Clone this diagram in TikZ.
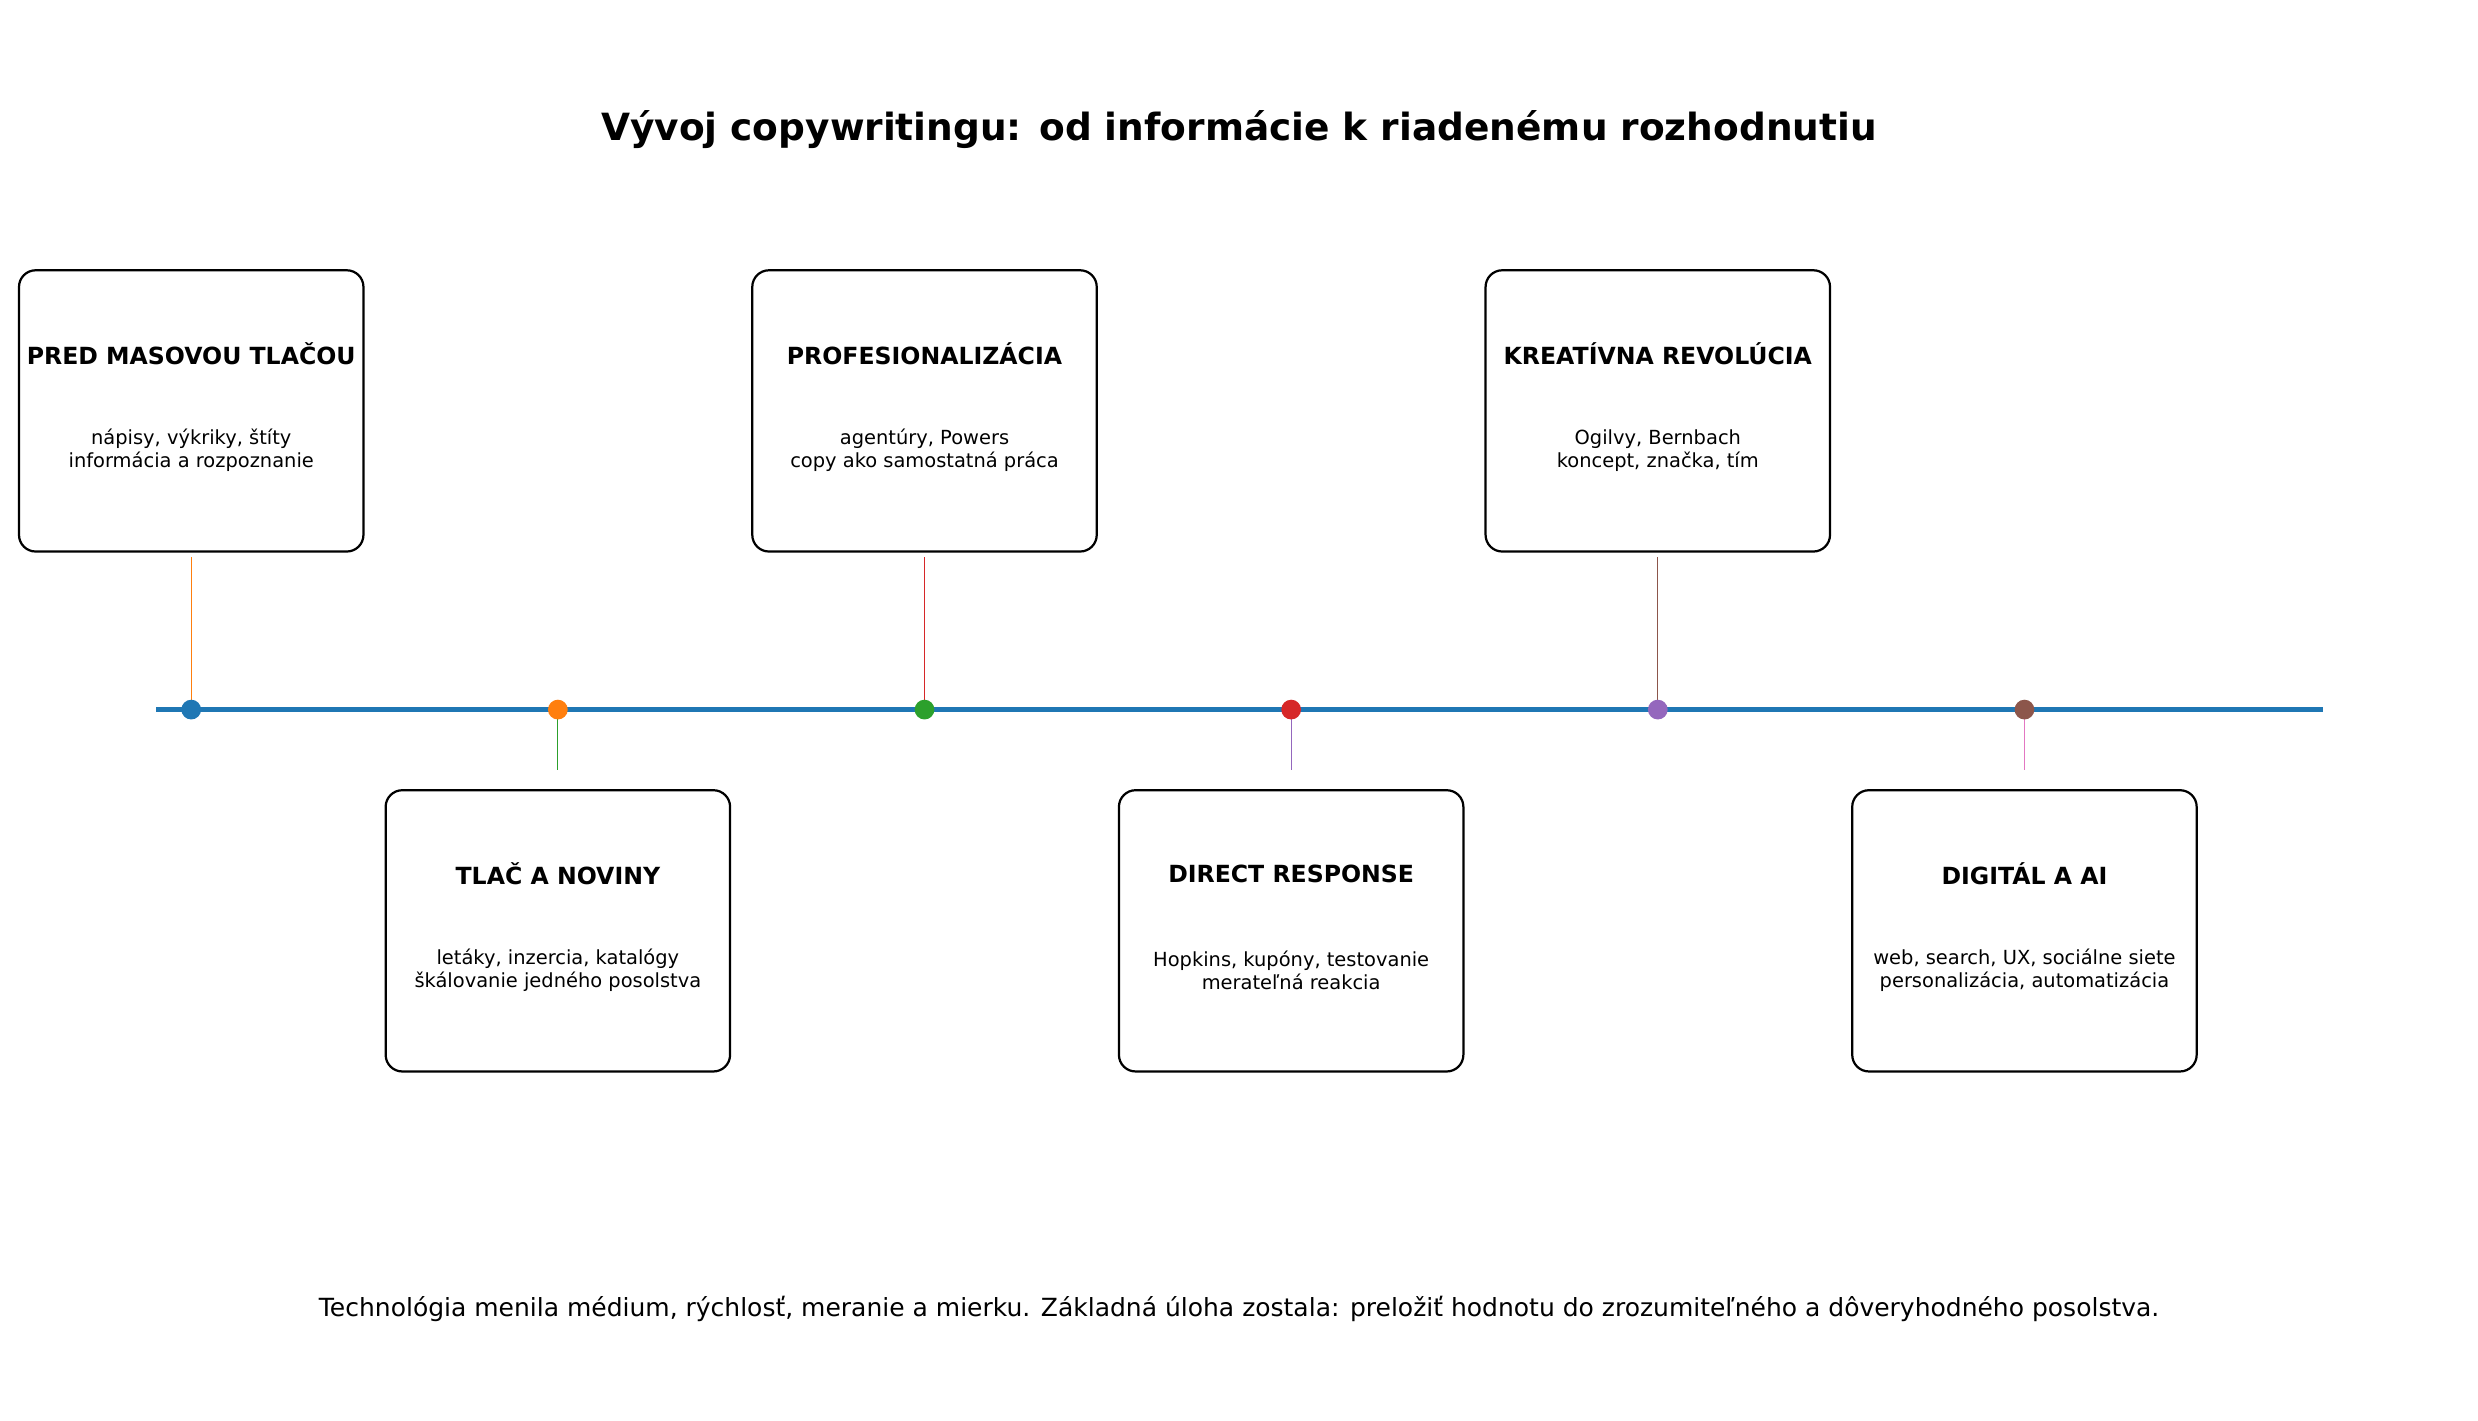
\documentclass[tikz,border=0pt]{standalone}
\usepackage{fontspec}
\setmainfont{DejaVu Sans}
\usetikzlibrary{calc}
\definecolor{tabblue}{HTML}{1F77B4}
\definecolor{taborange}{HTML}{FF7F0E}
\definecolor{tabgreen}{HTML}{2CA02C}
\definecolor{tabred}{HTML}{D62728}
\definecolor{tabpurple}{HTML}{9467BD}
\definecolor{tabbrown}{HTML}{8C564B}
\definecolor{tabpink}{HTML}{E377C2}
\tikzset{
	era/.style={draw,thick,rounded corners=6pt,minimum width=4.36cm,minimum height=3.56cm},
	head/.style={font=\fontsize{8.5}{10}\selectfont\bfseries},
	body/.style={font=\fontsize{7}{8.2}\selectfont,align=center},
	dot/.style={circle,inner sep=0pt,minimum size=0.25cm}
}
\begin{document}
\begin{tikzpicture}[x=0.02cm,y=-0.02cm]
\useasboundingbox (0,0) rectangle (1568,899);
\node[font=\fontsize{13.5}{16}\selectfont\bfseries] (title) at (784,82) {Vývoj copywritingu: od informácie k riadenému rozhodnutiu};
\coordinate (axisL) at (99,449);
\coordinate (axisR) at (1470,449);
\draw[tabblue,line width=1.6pt] (axisL) -- (axisR);
% top eras
\foreach \x/\n/\c/\t/\a/\b in {
	121/e1/taborange/{PRED MASOVOU TLAČOU}/{nápisy, výkriky, štíty}/{informácia a rozpoznanie},
	585/e3/tabred/{PROFESIONALIZÁCIA}/{agentúry, Powers}/{copy ako samostatná práca},
	1049/e5/tabbrown/{KREATÍVNA REVOLÚCIA}/{Ogilvy, Bernbach}/{koncept, značka, tím}}{
	\node[era] (\n) at (\x,260) {};
	\node[head] at (\x,224) {\t};
	\node[body] at (\x,285) {\a\\\b};
	\coordinate (\n a) at (\x,449);
	\draw[\c] ($(\n.south)+(0,3)$) -- (\n a);
}
% bottom eras
\foreach \x/\n/\c/\t/\a/\b in {
	353/e2/tabgreen/{TLAČ A NOVINY}/{letáky, inzercia, katalógy}/{škálovanie jedného posolstva},
	817/e4/tabpurple/{DIRECT RESPONSE}/{Hopkins, kupóny, testovanie}/{merateľná reakcia},
	1281/e6/tabpink/{DIGITÁL A AI}/{web, search, UX, sociálne siete}/{personalizácia, automatizácia}}{
	\node[era] (\n) at (\x,589) {};
	\node[head] at (\x,553) {\t};
	\node[body] at (\x,614) {\a\\\b};
	\coordinate (\n a) at (\x,449);
	\draw[\c] (\n a) -- ($(\n.north)+(0,-12)$);
}
\foreach \n/\c in {e1/tabblue,e2/taborange,e3/tabgreen,e4/tabred,e5/tabpurple,e6/tabbrown}
	\node[dot,fill=\c] at (\n a) {};
\node[font=\fontsize{9}{11}\selectfont] (note) at (784,828) {Technológia menila médium, rýchlosť, meranie a mierku. Základná úloha zostala: preložiť hodnotu do zrozumiteľného a dôveryhodného posolstva.};
\end{tikzpicture}
\end{document}
